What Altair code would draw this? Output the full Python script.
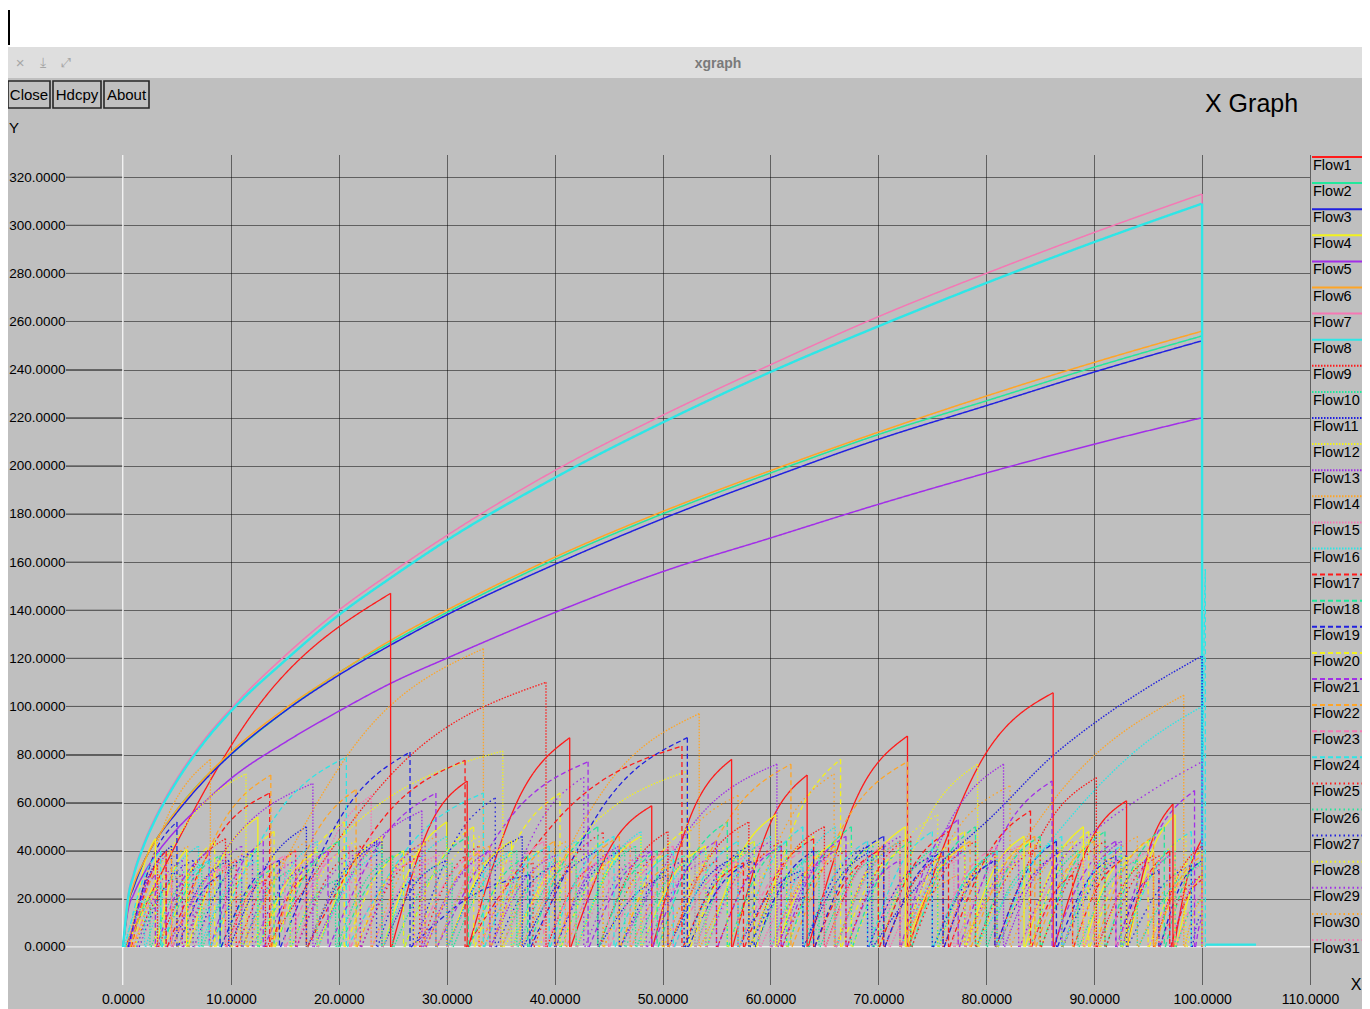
import altair as alt
import pandas as pd

# ---------------- data ----------------
FLOWS = [f"Flow{i}" for i in range(1, 32)]
HUES = ["#ff1a1a", "#22e89c", "#2020e0", "#f2f21e", "#a22ee8", "#ffa526", "#f578b4", "#2ee6e6"]
DASH_STYLES = [[1, 0], [1.5, 1.5], [5, 3], [1.5, 3]]

X_TICKS = [0, 10, 20, 30, 40, 50, 60, 70, 80, 90, 100, 110]
Y_TICKS = [0, 20, 40, 60, 80, 100, 120, 140, 160, 180, 200, 220, 240, 260, 280, 300, 320]

# long-running flows (read at these x positions)
CURVE_X = [0, 0.5, 1, 2, 3, 5, 7.5, 10, 15, 20, 25, 30, 40, 50, 60, 70, 80, 90, 100]
flow7_curve = [0, 22, 31, 44, 54, 70, 86, 99, 121, 140, 156, 171, 198, 221, 242, 262, 280, 297, 313]
flow8_curve = [0, 21, 30, 43, 53, 69, 85, 98, 119, 138, 154, 169, 195, 218, 239, 258, 276, 293, 309]
flow6_curve = [0, 18, 26, 36, 44, 57, 70, 81, 99, 114, 128, 140, 162, 181, 198, 214, 229, 243, 256]
flow2_curve = [0, 18, 25, 36, 44, 57, 70, 80, 98, 114, 127, 139, 161, 180, 197, 213, 227, 241, 254]
flow3_curve = [0, 18, 25, 36, 44, 56, 69, 80, 98, 113, 126, 138, 159, 178, 195, 211, 225, 239, 252]
flow5_curve = [0, 16, 22, 31, 38, 49, 60, 70, 85, 98, 110, 120, 139, 156, 170, 184, 197, 209, 220]

# late curves
flow11_late_x = [69.5, 71, 73, 76, 80, 86.3, 90, 95, 100]
flow11_late_y = [0, 10, 22, 36, 52, 80, 93, 108, 121]
flow16_late_x = [79, 82, 86.3, 90, 93.7, 100]
flow16_late_y = [0, 22, 46, 65, 81, 100]
flow29_late_x = [83.1, 86, 90, 95, 100]
flow29_late_y = [0, 30, 48, 64, 77]
flow8_tail_x = [100.3, 105.0]
flow8_tail_y = [1.0, 1.0]

# sawtooth teeth: (start x, peak x, peak y, y at half way)
flow1_teeth = [(0.2, 24.8, 147, 100), (24.9, 31.9, 69, 50), (32.0, 41.4, 87, 62), (41.5, 49.0, 58.7, 42),
               (49.1, 56.4, 78, 56), (56.5, 63.4, 71.5, 51), (63.5, 72.7, 87.7, 63), (72.8, 86.2, 105.7, 77),
               (86.3, 93.0, 60.8, 44), (93.1, 97.3, 59.4, 42), (97.4, 100.0, 45, 30)]
flow4_teeth = [(0.7, 3.0, 45, 32), (3.1, 5.9, 40.7, 29), (6.0, 12.5, 54, 38), (12.6, 18.0, 40, 28),
               (18.1, 24.0, 46, 33), (24.1, 30.0, 52, 37), (30.1, 36.0, 44, 31), (36.1, 42.0, 40, 28),
               (42.1, 48.0, 46, 33), (48.1, 54.0, 42, 30), (54.1, 60.5, 55, 39), (60.6, 66.0, 44, 31),
               (66.1, 72.5, 50, 35), (72.6, 78.0, 42, 30), (78.1, 83.5, 46, 33), (83.6, 89.0, 50, 35),
               (89.1, 93.0, 38, 27), (93.1, 97.5, 55, 39), (97.6, 100.0, 30, 21)]
flow9_teeth = [(0.5, 3.2, 34, 24), (3.3, 9.5, 45, 32), (9.6, 13.2, 28, 20), (13.3, 39.2, 110, 78),
               (39.3, 44.0, 35, 25), (44.1, 50.5, 48, 34), (50.6, 58.0, 52, 37), (58.1, 65.0, 50, 36),
               (65.1, 70.5, 42, 30), (70.6, 76.0, 38, 27), (76.1, 80.8, 40, 28), (80.9, 90.2, 70.4, 50),
               (90.3, 95.5, 38, 27), (95.6, 100.0, 42, 30)]
flow10_teeth = [(0.3, 2.5, 20, 14), (2.6, 7.3, 34.5, 24), (7.4, 11.0, 28, 20), (11.1, 15.5, 32, 23),
                (15.6, 19.7, 27.6, 20), (19.8, 25.0, 38, 27), (25.1, 30.5, 35, 25), (30.6, 36.5, 40, 28),
                (36.6, 42.0, 36, 26), (42.1, 47.5, 42, 30), (47.6, 53.0, 38, 27), (53.1, 58.5, 44, 31),
                (58.6, 64.5, 40, 28), (64.6, 70.0, 38, 27), (70.1, 75.5, 42, 30), (75.6, 80.0, 36, 26),
                (80.1, 84.0, 34, 24), (84.1, 88.5, 40, 28), (88.6, 94.0, 36, 26), (94.1, 100.0, 34.5, 24)]
flow11_teeth = [(0.4, 4.5, 42, 30), (4.6, 9.8, 36, 26), (9.9, 17.0, 50, 35), (17.1, 24.0, 44, 31),
                (24.1, 30.0, 36, 26), (30.1, 37.0, 46, 33), (37.1, 44.0, 40, 28), (44.1, 50.5, 30, 21),
                (50.6, 57.0, 38, 27), (57.1, 63.0, 32, 23), (63.1, 69.4, 40, 28)]
flow12_teeth = [(0.3, 11.4, 72, 51), (11.5, 35.2, 81.5, 58), (35.3, 52.3, 73, 52), (52.4, 58.0, 40, 28),
                (58.1, 64.0, 46, 33), (64.1, 70.0, 44, 31), (70.1, 79.2, 76, 54), (79.3, 85.0, 44, 31),
                (85.1, 90.5, 48, 34), (90.6, 95.5, 40, 28), (95.6, 100.0, 36, 26)]
flow13_teeth = [(0.4, 4.0, 38, 27), (4.1, 17.6, 68, 48), (17.7, 27.7, 56.6, 40), (27.8, 34.0, 40, 28),
                (34.1, 40.0, 38, 27), (40.1, 46.0, 42, 30), (46.1, 60.6, 76, 54), (60.7, 66.0, 40, 28),
                (66.1, 72.0, 44, 31), (72.1, 81.6, 76, 54), (81.7, 87.0, 40, 28), (87.1, 92.5, 44, 31),
                (92.6, 97.0, 38, 27), (97.1, 100.0, 30, 21)]
flow14_teeth = [(0.3, 8.1, 78, 55), (8.2, 10.9, 22, 15), (11.0, 33.4, 124, 88), (33.5, 36.8, 26, 18),
                (36.9, 53.4, 97, 69), (53.5, 60.0, 40, 28), (60.1, 66.0, 42, 30), (66.1, 72.0, 44, 31),
                (72.1, 77.4, 30, 21), (77.5, 98.3, 104.7, 70), (98.4, 100.0, 20, 14)]
flow15_teeth = [(0.5, 5.0, 32, 23), (5.1, 10.5, 36, 26), (10.6, 16.0, 40, 28), (16.1, 23.0, 63, 45),
                (23.1, 29.0, 38, 27), (29.1, 35.0, 42, 30), (35.1, 41.0, 36, 26), (41.1, 47.0, 44, 31),
                (47.1, 53.0, 38, 27), (53.1, 59.0, 42, 30), (59.1, 65.0, 36, 26), (65.1, 71.0, 44, 31),
                (71.1, 77.0, 38, 27), (77.1, 83.0, 42, 30), (83.1, 89.0, 36, 26), (89.1, 95.0, 40, 28),
                (95.1, 100.0, 34, 24)]
flow16_teeth = [(0.1, 2.0, 20, 14), (2.1, 7.0, 42, 30), (7.1, 12.5, 36, 26), (12.6, 18.0, 44, 31),
                (18.1, 24.0, 40, 28), (24.1, 30.0, 46, 33), (30.1, 36.0, 40, 28), (36.1, 42.0, 44, 31),
                (42.1, 48.0, 48, 34), (48.1, 54.0, 40, 28), (54.1, 60.0, 46, 33), (60.1, 66.0, 50, 35),
                (66.1, 72.0, 44, 31), (72.1, 78.0, 40, 28)]
flow17_teeth = [(0.8, 4.0, 40, 28), (4.1, 13.6, 64, 46), (13.7, 17.0, 30, 21), (17.1, 31.7, 77.6, 55),
                (31.8, 51.8, 83.5, 60), (51.9, 57.5, 35, 25), (57.6, 64.0, 45, 32), (64.1, 70.0, 40, 28),
                (70.1, 76.5, 48, 34), (76.6, 84.1, 56.6, 40), (84.2, 88.0, 30, 21), (88.1, 92.5, 36, 25),
                (92.6, 97.0, 40, 28), (97.1, 100.0, 28, 20)]
flow18_teeth = [(0.6, 3.5, 26, 18), (3.6, 9.0, 38, 27), (9.1, 14.0, 33, 23), (14.1, 20.0, 44, 31),
                (20.1, 26.0, 40, 28), (26.1, 32.0, 46, 33), (32.1, 37.5, 38, 27), (37.6, 44.0, 50, 35),
                (44.1, 49.5, 40, 28), (49.6, 56.0, 52, 37), (56.1, 61.5, 44, 31), (61.6, 67.5, 50, 35),
                (67.6, 73.0, 44, 31), (73.1, 79.0, 50, 35), (79.1, 85.0, 46, 33), (85.1, 91.0, 48, 34),
                (91.1, 96.5, 50, 35), (96.6, 100.0, 36, 26)]
flow19_teeth = [(0.5, 5.0, 52, 37), (5.1, 9.0, 30, 21), (9.1, 14.5, 36, 26), (14.6, 26.6, 81, 57),
                (26.7, 37.7, 30, 21), (37.8, 52.3, 87, 62), (52.4, 58.5, 36, 26), (58.6, 64.0, 40, 28),
                (64.1, 70.5, 46, 33), (70.6, 76.0, 40, 28), (76.1, 80.8, 36, 26), (80.9, 86.5, 44, 31),
                (86.6, 92.0, 38, 27), (92.1, 96.0, 32, 23), (96.1, 100.0, 36, 26)]
flow20_teeth = [(0.9, 3.8, 30, 21), (3.9, 8.5, 44, 31), (8.6, 14.0, 48, 34), (14.1, 20.5, 52, 37),
                (20.6, 26.0, 40, 28), (26.1, 32.5, 50, 35), (32.6, 40.5, 64, 45), (40.6, 46.0, 38, 27),
                (46.1, 52.5, 50, 35), (52.6, 58.5, 44, 31), (58.7, 66.5, 78, 55), (66.6, 72.0, 40, 28),
                (72.1, 78.0, 48, 34), (78.1, 84.0, 44, 31), (84.1, 89.5, 48, 34), (89.6, 95.0, 44, 31),
                (95.1, 100.0, 40, 28)]
flow21_teeth = [(0.6, 3.0, 30, 21), (3.1, 8.0, 40, 28), (8.1, 13.0, 44, 31), (13.1, 19.0, 40, 28),
                (19.1, 29.0, 64, 45), (29.1, 43.1, 77, 55), (43.2, 49.0, 40, 28), (49.1, 55.0, 44, 31),
                (55.1, 61.0, 42, 30), (61.1, 67.0, 46, 33), (67.1, 72.0, 36, 26), (72.1, 77.4, 53, 38),
                (77.5, 86.1, 69, 49), (86.2, 92.0, 44, 31), (92.1, 99.3, 65, 46), (99.4, 100.0, 12, 8)]
flow22_teeth = [(0.7, 4.5, 40, 28), (4.6, 13.7, 71.5, 51), (13.8, 21.6, 65.5, 46), (21.7, 28.0, 44, 31),
                (28.1, 34.0, 42, 30), (34.1, 40.0, 44, 31), (40.1, 46.0, 46, 33), (46.1, 50.5, 34, 24),
                (50.6, 61.9, 76, 54), (62.0, 72.7, 77, 55), (72.8, 78.5, 44, 31), (78.6, 84.5, 46, 33),
                (84.6, 90.0, 44, 31), (90.1, 95.5, 46, 33), (95.6, 100.0, 38, 27)]
flow23_teeth = [(0.9, 4.5, 28, 20), (4.6, 9.5, 34, 24), (9.6, 15.0, 38, 27), (15.1, 21.0, 42, 30),
                (21.1, 27.0, 36, 26), (27.1, 33.0, 40, 28), (33.1, 39.0, 44, 31), (39.1, 45.0, 38, 27),
                (45.1, 51.0, 42, 30), (51.1, 57.0, 36, 26), (57.1, 63.0, 40, 28), (63.1, 69.0, 44, 31),
                (69.1, 75.0, 38, 27), (75.1, 81.0, 42, 30), (81.1, 87.0, 40, 28), (87.1, 92.0, 36, 26),
                (92.1, 97.5, 40, 28), (97.6, 100.0, 22, 15)]
flow24_teeth = [(0.2, 3.5, 40, 28), (3.6, 8.0, 36, 26), (8.1, 20.7, 79, 56), (20.8, 33.4, 64, 45),
                (33.5, 39.5, 42, 30), (39.6, 45.5, 46, 33), (45.6, 51.0, 40, 28), (51.1, 57.0, 44, 31),
                (57.1, 63.0, 50, 35), (63.1, 69.0, 44, 31), (69.1, 75.0, 48, 34), (75.1, 81.0, 40, 28),
                (81.1, 87.0, 46, 33), (87.1, 92.5, 42, 30), (92.6, 99.0, 48, 34), (100.0, 100.3, 157, 110)]
flow25_teeth = [(1.0, 5.5, 30, 21), (5.6, 10.5, 36, 25), (10.6, 16.0, 40, 28), (16.1, 22.0, 42, 30),
                (22.1, 27.5, 38, 27), (27.6, 33.0, 42, 30), (33.1, 38.0, 35, 25), (38.1, 44.5, 47.6, 34),
                (44.6, 50.0, 40, 28), (50.1, 55.0, 36, 25), (55.1, 61.0, 44, 31), (61.1, 67.0, 40, 28),
                (67.1, 73.0, 46, 33), (73.1, 79.0, 44, 31), (79.1, 85.0, 42, 30), (85.1, 91.0, 44, 31),
                (91.1, 96.0, 38, 27), (96.1, 100.0, 30, 21)]
flow26_teeth = [(1.2, 6.0, 32, 23), (6.1, 12.5, 40, 28), (12.6, 18.0, 36, 26), (18.1, 24.0, 42, 30),
                (24.1, 29.0, 34, 24), (29.1, 35.0, 40, 28), (35.1, 40.5, 36, 26), (40.6, 46.5, 42, 30),
                (46.6, 52.0, 38, 27), (52.1, 58.0, 40, 28), (58.1, 63.5, 36, 26), (63.6, 69.5, 42, 30),
                (69.6, 75.0, 38, 27), (75.1, 81.0, 40, 28), (81.1, 87.0, 42, 30), (87.1, 92.5, 38, 27),
                (92.6, 97.5, 40, 28), (97.6, 100.0, 20, 14)]
flow27_teeth = [(1.5, 6.5, 36, 26), (6.6, 12.0, 40, 28), (12.1, 17.0, 34, 24), (17.1, 23.5, 44, 31),
                (23.6, 26.9, 28, 20), (27.0, 34.5, 62, 44), (34.6, 40.0, 34, 24), (40.1, 46.0, 40, 28),
                (46.1, 52.0, 36, 26), (52.1, 58.0, 42, 30), (58.1, 63.0, 30, 21), (63.1, 69.0, 42, 30),
                (69.1, 75.0, 38, 27), (75.1, 81.0, 36, 26), (81.1, 87.0, 40, 28), (87.1, 93.0, 38, 27),
                (93.1, 99.0, 34, 24), (99.1, 100.0, 14, 10)]
flow28_teeth = [(1.1, 5.0, 34, 24), (5.1, 10.0, 40, 28), (10.1, 15.5, 38, 27), (15.6, 21.5, 44, 31),
                (21.6, 27.0, 38, 27), (27.1, 33.0, 46, 33), (33.1, 38.5, 40, 28), (38.6, 44.5, 44, 31),
                (44.6, 50.0, 38, 27), (50.1, 56.0, 42, 30), (56.1, 61.5, 38, 27), (61.6, 67.5, 44, 31),
                (67.6, 75.5, 55, 39), (75.6, 81.0, 38, 27), (81.1, 87.0, 42, 30), (87.1, 92.5, 40, 28),
                (92.6, 98.5, 46, 33), (98.6, 100.0, 16, 11)]
flow29_teeth = [(1.3, 5.5, 36, 26), (5.6, 11.0, 42, 30), (11.1, 16.0, 36, 26), (16.1, 22.0, 40, 28),
                (22.1, 28.0, 44, 31), (28.1, 34.0, 40, 28), (34.1, 42.7, 70.7, 50), (42.8, 48.5, 40, 28),
                (48.6, 54.0, 36, 26), (54.1, 60.0, 44, 31), (60.1, 66.0, 40, 28), (66.1, 72.0, 46, 33),
                (72.1, 78.0, 40, 28), (78.1, 83.0, 36, 26)]
flow30_teeth = [(1.0, 6.0, 42, 30), (6.1, 11.5, 40, 28), (11.6, 17.0, 44, 31), (17.1, 23.0, 40, 28),
                (23.1, 29.0, 46, 33), (29.1, 35.0, 40, 28), (35.1, 41.0, 44, 31), (41.1, 47.0, 42, 30),
                (47.1, 57.0, 63, 45), (57.1, 65.9, 72, 51), (66.0, 72.0, 44, 31), (72.1, 82.2, 67, 48),
                (82.3, 88.0, 44, 31), (88.1, 94.0, 46, 33), (94.1, 100.0, 40, 28)]
flow31_teeth = [(1.4, 6.5, 30, 21), (6.6, 12.0, 34, 24), (12.1, 18.0, 38, 27), (18.1, 24.0, 36, 26),
                (24.1, 30.0, 40, 28), (30.1, 36.0, 36, 26), (36.1, 42.0, 40, 28), (42.1, 48.0, 38, 27),
                (48.1, 54.0, 36, 26), (54.1, 60.0, 40, 28), (60.1, 66.0, 38, 27), (66.1, 72.0, 42, 30),
                (72.1, 78.0, 38, 27), (78.1, 84.0, 40, 28), (84.1, 90.0, 38, 27), (90.1, 96.0, 36, 26),
                (96.1, 100.0, 28, 20)]

# ---------------- assemble tables ----------------
CURVES = {"Flow2": flow2_curve, "Flow3": flow3_curve, "Flow5": flow5_curve,
          "Flow6": flow6_curve, "Flow7": flow7_curve, "Flow8": flow8_curve}
TEETH = {"Flow1": flow1_teeth, "Flow4": flow4_teeth, "Flow9": flow9_teeth, "Flow10": flow10_teeth,
         "Flow11": flow11_teeth, "Flow12": flow12_teeth, "Flow13": flow13_teeth, "Flow14": flow14_teeth,
         "Flow15": flow15_teeth, "Flow16": flow16_teeth, "Flow17": flow17_teeth, "Flow18": flow18_teeth,
         "Flow19": flow19_teeth, "Flow20": flow20_teeth, "Flow21": flow21_teeth, "Flow22": flow22_teeth,
         "Flow23": flow23_teeth, "Flow24": flow24_teeth, "Flow25": flow25_teeth, "Flow26": flow26_teeth,
         "Flow27": flow27_teeth, "Flow28": flow28_teeth, "Flow29": flow29_teeth, "Flow30": flow30_teeth,
         "Flow31": flow31_teeth}
LATE = {"Flow11": (flow11_late_x, flow11_late_y), "Flow16": (flow16_late_x, flow16_late_y),
        "Flow29": (flow29_late_x, flow29_late_y)}

line_rows, drop_rows = [], []
seg_counter = [0]


def add_path(flow, xs, ys, width, drop=True):
    seg_counter[0] += 1
    for i, (xv, yv) in enumerate(zip(xs, ys)):
        line_rows.append({"flow": flow, "seg": seg_counter[0], "i": i, "x": xv, "y": yv, "w": width})
    if drop:
        drop_rows.append({"flow": flow, "x": xs[-1], "y": ys[-1], "y0": 0.0, "w": width})


for fl in FLOWS:
    if fl in TEETH:
        for (x0, xp, yp, ym) in TEETH[fl]:
            add_path(fl, [x0, (x0 + xp) / 2, xp], [0, ym, yp], 1.3)
    if fl in LATE:
        add_path(fl, LATE[fl][0], LATE[fl][1], 1.4)
    if fl in CURVES:
        add_path(fl, CURVE_X, CURVES[fl], 2.4 if fl == "Flow8" else 1.5)
    if fl == "Flow8":
        add_path(fl, flow8_tail_x, flow8_tail_y, 2.4, drop=False)

lines_df = pd.DataFrame(line_rows)
drops_df = pd.DataFrame(drop_rows)
legend_df = pd.DataFrame({"flow": FLOWS})
yticks_df = pd.DataFrame({"y": Y_TICKS, "xa": [-5.28] * len(Y_TICKS), "xb": [0.0] * len(Y_TICKS)})
zero_df = pd.DataFrame({"v": [0.0]})
one = pd.DataFrame({"k": [0]})

# ---------------- styling ----------------
FONT = "Liberation Sans"
COLOR_RANGE = [HUES[i % 8] for i in range(31)]
DASH_RANGE = [DASH_STYLES[i // 8] for i in range(31)]
X_SCALE = alt.Scale(domain=[-5.28, 110], nice=False, zero=False)
Y_SCALE = alt.Scale(domain=[-15.8, 329.2], nice=False, zero=False)
color = alt.Color("flow:N", scale=alt.Scale(domain=FLOWS, range=COLOR_RANGE), legend=None)
dash = alt.StrokeDash("flow:N", scale=alt.Scale(domain=FLOWS, range=DASH_RANGE), legend=None)

axis_common = dict(format=".4f", grid=True, domain=False, ticks=False, title=None,
                   labelFont=FONT, labelColor="black",
                   gridColor="black", gridDash=[1, 1], gridOpacity=1, gridWidth=1,
                   labelOverlap=False, labelFlush=False)
x_axis = alt.Axis(values=X_TICKS, labelPadding=7, labelFontSize=14, **axis_common)
y_axis = alt.Axis(values=Y_TICKS, labelPadding=1, labelFontSize=13.5, **axis_common)


def label(text, px, py, size, **kw):
    return alt.Chart(one).mark_text(text=text, fontSize=size, font=FONT, **kw).encode(
        x=alt.value(px), y=alt.value(py))


def box(x1, y1, x2, y2, **kw):
    return alt.Chart(one).mark_rect(**kw).encode(
        x=alt.value(x1), x2=alt.value(x2), y=alt.value(y1), y2=alt.value(y2))


top_white = box(-60, -150, 1300, -108, color="white")
title_bar = box(-60, -108, 1300, -77, color="#dedede")
cursor = alt.Chart(one).mark_rule(color="black", strokeWidth=2).encode(
    x=alt.value(-57), y=alt.value(-145), y2=alt.value(-110))
win_title = label("xgraph", 652, -91, 14, color="#7a7a7a", fontWeight="bold")
icon1 = label("×", -46, -92, 15, color="#a6a6a6")
icon2 = label("⤓", -23, -92, 14, color="#a6a6a6")
icon3 = label("⤢", 0, -92, 13, color="#a6a6a6")
btns = []
for (bx1, bx2, txt) in [(-58, -16, "Close"), (-13, 35, "Hdcpy"), (38, 83, "About")]:
    btns.append(box(bx1, -74, bx2, -47, fill="#c0c0c0", stroke="#262626", strokeWidth=1.6))
    btns.append(label(txt, (bx1 + bx2) / 2, -60.5, 15, color="black"))
y_lab = label("Y", -57, -27, 15, color="black", align="left")
big_title = label("X Graph", 1139, -51, 25, color="black", align="left")
x_lab = label("X", 1290, 830, 16, color="black")

tick_segs = alt.Chart(yticks_df).mark_rule(color="#5c5c5c", strokeWidth=1).encode(
    x=alt.X("xa:Q", scale=X_SCALE, axis=None), x2="xb:Q",
    y=alt.Y("y:Q", scale=Y_SCALE, axis=None))
white_v = alt.Chart(zero_df).mark_rule(color="white", strokeWidth=1.5).encode(
    x=alt.X("v:Q", scale=X_SCALE, axis=None))
white_h = alt.Chart(zero_df).mark_rule(color="white", strokeWidth=1.5).encode(
    y=alt.Y("v:Q", scale=Y_SCALE, axis=None))

lines = alt.Chart(lines_df).mark_line(interpolate="monotone").encode(
    x=alt.X("x:Q", scale=X_SCALE, axis=x_axis),
    y=alt.Y("y:Q", scale=Y_SCALE, axis=y_axis),
    detail="seg:N", order="i:Q", color=color, strokeDash=dash,
    strokeWidth=alt.StrokeWidth("w:Q", scale=None))
drops = alt.Chart(drops_df).mark_rule().encode(
    x=alt.X("x:Q", scale=X_SCALE, axis=None),
    y=alt.Y("y:Q", scale=Y_SCALE, axis=None), y2="y0:Q",
    color=color, strokeDash=dash, strokeWidth=alt.StrokeWidth("w:Q", scale=None))

LEG_SCALE = alt.Scale(type="point", domain=FLOWS, range=[11, 794], padding=0)
leg_lines = alt.Chart(legend_df).mark_rule(yOffset=-9, strokeWidth=2).encode(
    x=alt.value(1246), x2=alt.value(1296),
    y=alt.Y("flow:N", scale=LEG_SCALE, axis=None), color=color, strokeDash=dash)
leg_text = alt.Chart(legend_df).mark_text(align="left", baseline="middle", fontSize=14.5,
                                          font=FONT, color="black").encode(
    x=alt.value(1247), y=alt.Y("flow:N", scale=LEG_SCALE, axis=None), text="flow:N")

chart = alt.layer(
    top_white, title_bar, cursor, win_title, icon1, icon2, icon3, *btns, y_lab, big_title, x_lab,
    tick_segs, white_v, white_h, lines, drops, leg_lines, leg_text
).resolve_scale(
    x="independent", y="independent", color="shared", strokeDash="shared"
).properties(
    width=1244, height=830, background="#bfbfbf",
    autosize=alt.AutoSizeParams(type="none"),
    padding={"left": 58, "top": 147, "right": 52, "bottom": 24},
).configure_view(stroke=None)

chart.save("out.html", embed_options={"renderer": "svg", "actions": False})
